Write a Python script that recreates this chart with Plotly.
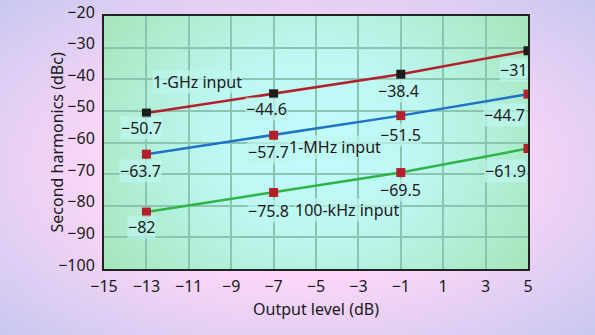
import base64
import plotly.graph_objects as go

# ---- data ----
x_levels = [-13, -7, -1, 5]
ghz_1 = [-50.7, -44.6, -38.4, -31]
mhz_1 = [-63.7, -57.7, -51.5, -44.7]
khz_100 = [-82, -75.8, -69.5, -61.9]
series_names = ["1-GHz input", "1-MHz input", "100-kHz input"]
x_ticks = [-15, -13, -11, -9, -7, -5, -3, -1, 1, 3, 5]
y_ticks = [-20, -30, -40, -50, -60, -70, -80, -90, -100]
x_title = "Output level (dB)"
y_title = "Second harmonics (dBc)"

# ---- styling ----
FONT = "Noto Sans"
line_colors = ["#b3212b", "#1f72c4", "#2fb447"]
marker_colors = ["#1c1c1c", "#b31f2b", "#b31f2b"]
# label offsets in px (dx, dy) per series/point; dy measured downward
label_offsets = [
    [(-5, 15), (-7, 15), (-2, 17), (-15, 19)],
    [(-6, 17), (-5, 17), (0, 19), (-24, 21)],
    [(-5, 15), (-5, 19), (0, 17), (-23, 22)],
]
series_label_pos = [(-10.6, -40.8), (-4.1, -61.3), (-3.55, -81.3)]

W, H = 595, 335
L, R, T, B = 104, 67, 16, 66
pw, ph = W - L - R, H - T - B


def svg_uri(svg):
    return "data:image/svg+xml;base64," + base64.b64encode(svg.encode()).decode()


page_svg = f"""<svg xmlns='http://www.w3.org/2000/svg' width='{W}' height='{H}' viewBox='0 0 {W} {H}' preserveAspectRatio='none'>
<defs><radialGradient id='g' cx='50%' cy='50%' r='75%'>
<stop offset='0%' stop-color='#fdd8f8'/><stop offset='45%' stop-color='#fbd6f8'/>
<stop offset='100%' stop-color='#c3c6ee'/></radialGradient></defs>
<rect width='{W}' height='{H}' fill='url(#g)'/></svg>"""

plot_svg = f"""<svg xmlns='http://www.w3.org/2000/svg' width='{pw}' height='{ph}' viewBox='0 0 {pw} {ph}' preserveAspectRatio='none'>
<defs><radialGradient id='p' cx='50%' cy='50%' r='60%' gradientTransform='translate(0.5 0.5) scale(1 1.4) translate(-0.5 -0.5)'>
<stop offset='0%' stop-color='#c2fbfb'/><stop offset='40%' stop-color='#bdf8f4'/>
<stop offset='100%' stop-color='#a6e6bc'/></radialGradient></defs>
<rect width='{pw}' height='{ph}' fill='url(#p)'/></svg>"""

fig = go.Figure()

all_series = [ghz_1, mhz_1, khz_100]
for i, ys in enumerate(all_series):
    fig.add_trace(go.Scatter(
        x=x_levels, y=ys, mode="lines+markers",
        line=dict(color=line_colors[i], width=2.5),
        marker=dict(symbol="square", size=9, color=marker_colors[i]),
        cliponaxis=True, showlegend=False, hoverinfo="skip",
    ))

for i, ys in enumerate(all_series):
    for j, (xv, yv) in enumerate(zip(x_levels, ys)):
        dx, dy = label_offsets[i][j]
        txt = f"{yv:g}".replace("-", "\u2212")
        fig.add_annotation(
            x=xv, y=yv, xref="x", yref="y", text=txt, showarrow=False,
            xshift=dx, yshift=-dy, yanchor="middle",
            font=dict(family=FONT, size=16, color="#1a1a1a"),
            bgcolor="rgba(190,246,240,0.7)", borderpad=0,
        )

for i, name in enumerate(series_names):
    sx, sy = series_label_pos[i]
    fig.add_annotation(
        x=sx, y=sy, xref="x", yref="y", text=name, showarrow=False,
        font=dict(family=FONT, size=16, color="#1a1a1a"),
        bgcolor="rgba(190,246,240,0.7)", borderpad=0,
    )

# y-axis title placed as rotated text
fig.add_annotation(
    x=(56 - L) / pw, y=0.5, xref="paper", yref="paper", text=y_title,
    textangle=-90, showarrow=False, xanchor="center", yanchor="middle",
    font=dict(family=FONT, size=16, color="#1a1a1a"),
)

fig.update_layout(
    width=W, height=H,
    margin=dict(l=L, r=R, t=T, b=B, autoexpand=False),
    paper_bgcolor="#fcd6f6",
    plot_bgcolor="rgba(0,0,0,0)",
    font=dict(family=FONT, size=16, color="#1a1a1a"),
    images=[
        dict(source=svg_uri(page_svg), xref="paper", yref="paper",
             x=-L / pw, y=1 + T / ph, sizex=W / pw, sizey=H / ph,
             xanchor="left", yanchor="top", sizing="stretch", layer="below"),
        dict(source=svg_uri(plot_svg), xref="paper", yref="paper",
             x=0, y=1, sizex=1, sizey=1,
             xanchor="left", yanchor="top", sizing="stretch", layer="below"),
    ],
    xaxis=dict(
        range=[-15, 5], tickvals=x_ticks, ticks="", showgrid=True,
        gridcolor="#8cc4b2", gridwidth=1.5, zeroline=False,
        showline=True, linecolor="#222", linewidth=2, mirror=True,
        title=dict(text=x_title, font=dict(size=16), standoff=8),
        tickfont=dict(size=16), ticklabelstandoff=2, automargin=False,
    ),
    yaxis=dict(
        range=[-100, -20], tickvals=y_ticks, ticks="", showgrid=True,
        gridcolor="#8cc4b2", gridwidth=1.5, zeroline=False,
        showline=True, linecolor="#222", linewidth=2, mirror=True,
        tickfont=dict(size=16), ticklabelstandoff=4, ticklabelshift=-4,
        automargin=False,
    ),
)

fig.write_html("out.html")
